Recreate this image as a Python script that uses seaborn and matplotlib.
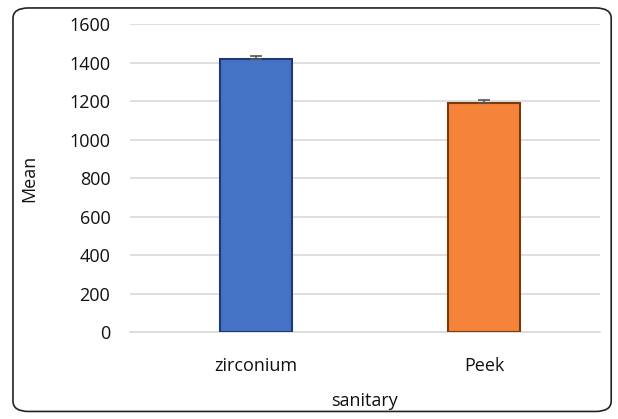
import matplotlib
matplotlib.use("Agg")
import matplotlib.pyplot as plt
from matplotlib.patches import FancyBboxPatch
import seaborn as sns
import pandas as pd

groups = ["zirconium", "Peek"]
means = [1420, 1192]
errors = [14, 16]
colors = ["#4472c4", "#f5843a"]
edge_colors = ["#1f3a70", "#7a3a0c"]

df = pd.DataFrame({"sanitary": groups, "Mean": means})

sns.set_theme(style="white")
plt.rcParams["font.family"] = ["Open Sans", "DejaVu Sans"]

fig = plt.figure(figsize=(6.18, 4.19), dpi=100)
ax = fig.add_axes([0.210, 0.2076, 0.761, 0.735])

sns.barplot(data=df, x="sanitary", y="Mean", hue="sanitary", palette=colors,
            width=0.316, saturation=1, legend=False, ax=ax, zorder=3)
for p, ec in zip(ax.patches, edge_colors):
    p.set_edgecolor(ec)
    p.set_linewidth(1.5)

ax.errorbar(range(len(groups)), means, yerr=[[0, 0], errors], fmt="none",
            ecolor="#555555", elinewidth=1.2, capsize=4, capthick=1.2, zorder=4)

ax.set_xlim(-0.553, 1.509)
ax.set_ylim(0, 1600)
ax.set_yticks(range(0, 1601, 200))
ax.yaxis.grid(True, color="#d9d9d9", linewidth=1.2, zorder=0)
ax.set_axisbelow(True)
for s in ["top", "right", "left"]:
    ax.spines[s].set_visible(False)
ax.spines["bottom"].set_color("#d9d9d9")
ax.spines["bottom"].set_linewidth(1.2)
ax.tick_params(axis="both", length=0, labelsize=13, colors="#111111")
ax.tick_params(axis="y", pad=14)
ax.tick_params(axis="x", pad=18)
ax.set_xlabel("sanitary", fontsize=13, labelpad=12, color="#111111")
ax.set_ylabel("Mean", fontsize=13, labelpad=22, color="#111111")

border = FancyBboxPatch((0.021, 0.018), 0.968, 0.963, boxstyle="round,pad=0,rounding_size=0.025",
                        transform=fig.transFigure, fill=False, edgecolor="#222222",
                        linewidth=1.2, zorder=10)
fig.patches.append(border)

fig.savefig("out.png", dpi=100)
